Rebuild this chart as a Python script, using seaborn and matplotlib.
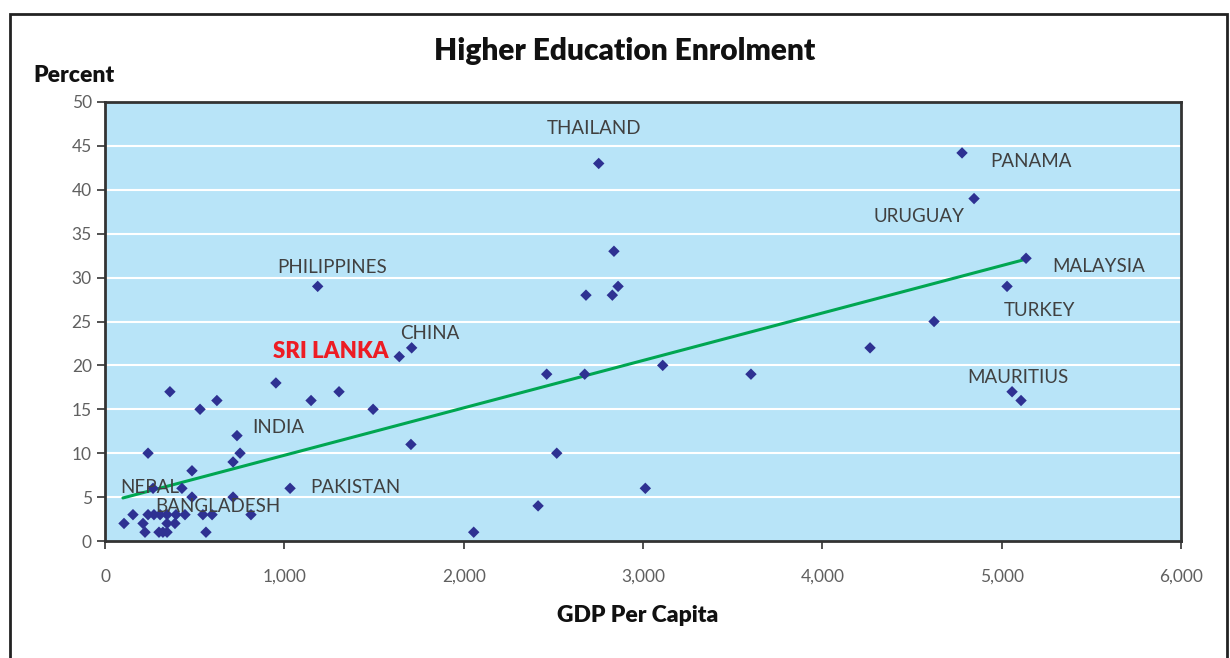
import numpy as np
import pandas as pd
import seaborn as sns
import matplotlib.pyplot as plt
from matplotlib.patches import Rectangle

# GDP per capita vs higher education enrolment (%)
gdp = [2753, 4779, 4846, 5136, 5030, 5058, 1186, 1641, 1710, 1032,
       5108, 4623, 4266, 3602, 3110, 2838, 2682, 2829, 2861, 2463,
       2675, 2519, 3013, 2415, 2056, 1706, 953, 362, 624, 530,
       1149, 1305, 1495, 736, 240, 753, 714, 485, 429, 268,
       714, 485, 814, 156, 240, 273, 307, 346, 396, 446,
       546, 597, 106, 212, 346, 390, 223, 301, 323, 346, 563]
enrol = [43, 44.2, 39, 32.2, 29, 17, 29, 21, 22, 6,
         16, 25, 22, 19, 20, 33, 28, 28, 29, 19,
         19, 10, 6, 4, 1, 11, 18, 17, 16, 15,
         16, 17, 15, 12, 10, 10, 9, 8, 6, 6,
         5, 5, 3, 3, 3, 3, 3, 3, 3, 3,
         3, 3, 2, 2, 2, 2, 1, 1, 1, 1, 1]

# trend line end points as drawn
trend_x = [100, 5136]
trend_y = [4.9, 32.1]

# country labels: text, left x, centre y
label_text = ['THAILAND', 'PANAMA', 'URUGUAY', 'MALAYSIA', 'TURKEY', 'MAURITIUS',
              'PHILIPPINES', 'CHINA', 'SRI LANKA', 'INDIA', 'PAKISTAN', 'NEPAL', 'BANGLADESH']
label_x = [2465, 4935, 4283, 5281, 5013, 4807, 959, 1645, 937, 820, 1143, 84, 279]
label_y = [47.0, 43.2, 37.0, 31.3, 26.3, 18.6, 31.1, 23.6, 21.6, 12.9, 6.15, 6.15, 3.9]

x_ticks = [0, 1000, 2000, 3000, 4000, 5000, 6000]
y_ticks = [0, 5, 10, 15, 20, 25, 30, 35, 40, 45, 50]

df = pd.DataFrame({'gdp': gdp, 'enrol': enrol})
trend = pd.DataFrame({'x': trend_x, 'y': trend_y})

sns.set_style('white')
plt.rcParams['font.family'] = ['Lato', 'DejaVu Sans']

fig = plt.figure(figsize=(12.3, 6.58), dpi=100)
ax = fig.add_axes([105 / 1230, 1 - 541 / 658, 1076 / 1230, 439 / 658])
ax.set_facecolor('#b8e4f8')

for y in y_ticks[1:-1]:
    ax.axhline(y, color='white', lw=1.5, zorder=1)

sns.lineplot(data=trend, x='x', y='y', color='#00a651', lw=2.2, ax=ax, zorder=3)
sns.scatterplot(data=df, x='gdp', y='enrol', marker='D', s=34, color='#2e3192',
                edgecolor='none', ax=ax, zorder=4)

for t, x, y in zip(label_text, label_x, label_y):
    if t == 'SRI LANKA':
        ax.text(x, y, t, color='#ed1c24', fontsize=16, fontweight='heavy',
                va='center', ha='left', zorder=5)
    else:
        ax.text(x, y, t, color='#404040', fontsize=13.5, fontweight='normal',
                va='center', ha='left', zorder=5)

ax.set_xlim(0, 6000)
ax.set_ylim(0, 50)
ax.set_xticks(x_ticks)
ax.set_xticklabels([f'{v:,}' for v in x_ticks])
ax.set_yticks(y_ticks)
ax.tick_params(axis='both', direction='out', length=6, width=1.2, color='#333333',
               labelsize=12.5, labelcolor='#606060', bottom=True, left=True)
ax.tick_params(axis='x', pad=14)
for s in ax.spines.values():
    s.set_color('#333333')
    s.set_linewidth(2)
ax.set_xlabel('')
ax.set_ylabel('')

fig.text(625 / 1230, 1 - 51 / 658, 'Higher Education Enrolment', ha='center', va='center',
         fontsize=21.5, fontweight='heavy', color='#111111')
fig.text(33 / 1230, 1 - 75 / 658, 'Percent', ha='left', va='center',
         fontsize=16.5, fontweight='heavy', color='#111111')
fig.text(638 / 1230, 1 - 616 / 658, 'GDP Per Capita', ha='center', va='center',
         fontsize=16.5, fontweight='heavy', color='#111111')

fig.patches.append(Rectangle((10 / 1230, -0.1), 1217 / 1230, 1.1 - 14 / 658,
                             transform=fig.transFigure, fill=False,
                             edgecolor='#222222', lw=2))

fig.savefig('out.png', dpi=100)
